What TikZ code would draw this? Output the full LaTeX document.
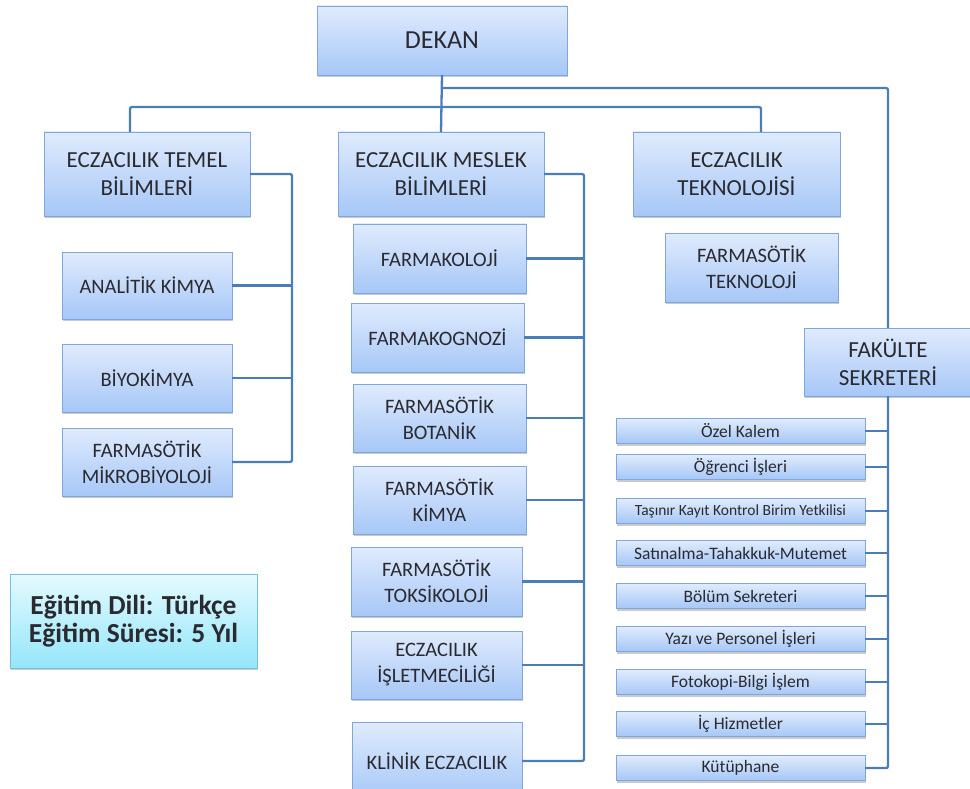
\documentclass[tikz,border=0pt]{standalone}
\usepackage{fontspec}
\setmainfont{Carlito}
\usetikzlibrary{shadows}

\definecolor{boxtop}{RGB}{224,235,253}
\definecolor{boxbot}{RGB}{166,199,247}
\definecolor{boxline}{RGB}{128,166,222}
\definecolor{linkblue}{RGB}{75,125,187}
\definecolor{edutop}{RGB}{228,250,254}
\definecolor{edubot}{RGB}{148,230,250}
\definecolor{eduline}{RGB}{120,188,222}
\definecolor{boxtext}{RGB}{42,42,48}

\tikzset{
  unit/.style={draw=boxline, line width=0.9pt, top color=boxtop, bottom color=boxbot,
    inner sep=0pt, outer sep=0pt, align=center, text=boxtext,
    drop shadow={shadow xshift=1.2pt, shadow yshift=-2pt, opacity=0.35, fill=black!60}},
  headbox/.style={unit, font=\fontsize{23}{28}\selectfont},
  subbox/.style={unit, font=\fontsize{20.5}{26}\selectfont},
  officebox/.style={unit, minimum width=249pt, minimum height=25pt,
    font=\fontsize{17.5}{20}\selectfont},
  link/.style={draw=linkblue, line width=2.3pt, rounded corners=2pt}
}

\begin{document}
\begin{tikzpicture}[x=1pt, y=-1pt]
    \useasboundingbox (0,0) rectangle (970,789);

    % top level
    \node[unit, font=\fontsize{26}{30}\selectfont, minimum width=250pt, minimum height=69pt]
      (dekan) at (442,40.5) {DEKAN};
    \node[headbox, minimum width=206pt, minimum height=84pt] (temel) at (147,174)
      {ECZACILIK TEMEL\\BİLİMLERİ};
    \node[headbox, minimum width=206pt, minimum height=84pt] (meslek) at (441,174)
      {ECZACILIK MESLEK\\BİLİMLERİ};
    \node[headbox, minimum width=207pt, minimum height=84pt] (teknoloji) at (736.5,174)
      {ECZACILIK\\TEKNOLOJİSİ};
    \node[subbox, minimum width=173pt, minimum height=69pt] (farmtek) at (751.5,267.5)
      {FARMASÖTİK\\TEKNOLOJİ};
    \node[headbox, minimum width=168pt, minimum height=68pt] (sekreter) at (888,362)
      {FAKÜLTE\\SEKRETERİ};

    % temel bilimler
    \node[subbox, minimum width=170pt, minimum height=67pt] (analitik) at (147,285.5)
      {ANALİTİK KİMYA};
    \node[subbox, minimum width=170pt, minimum height=68pt] (biyokimya) at (147,378)
      {BİYOKİMYA};
    \node[subbox, minimum width=170pt, minimum height=68pt] (mikro) at (147,462)
      {FARMASÖTİK\\MİKROBİYOLOJİ};

    % meslek bilimleri
    \node[subbox, minimum width=173pt, minimum height=69pt] (farmakoloji) at (439.5,258.5)
      {FARMAKOLOJİ};
    \node[subbox, minimum width=173pt, minimum height=69pt] (farmakognozi) at (437.5,337.5)
      {FARMAKOGNOZİ};
    \node[subbox, minimum width=173pt, minimum height=68pt] (botanik) at (439.5,418)
      {FARMASÖTİK\\BOTANİK};
    \node[subbox, minimum width=173pt, minimum height=68pt] (kimya) at (439.5,500)
      {FARMASÖTİK\\KİMYA};
    \node[subbox, minimum width=171pt, minimum height=69pt] (toksikoloji) at (436.5,581.5)
      {FARMASÖTİK\\TOKSİKOLOJİ};
    \node[subbox, minimum width=171pt, minimum height=68pt] (isletme) at (436.5,665)
      {ECZACILIK\\İŞLETMECİLİĞİ};
    \node[subbox, minimum width=170pt, minimum height=78pt] (klinik) at (437,761)
      {KLİNİK ECZACILIK};

    \node[draw=eduline, line width=0.9pt, top color=edutop, bottom color=edubot,
      minimum width=247pt, minimum height=94pt, align=center, text=boxtext,
      font=\bfseries\fontsize{27.5}{28.5}\selectfont,
      drop shadow={shadow xshift=1.2pt, shadow yshift=-2pt, opacity=0.35, fill=black!60}]
      (egitim) at (133.5,621) {Eğitim Dili: Türkçe\\Eğitim Süresi: 5 Yıl};

    % links from the dean
    \draw[link] (dekan.south) -- (meslek.north);
    \draw[link] ([xshift=-17pt]temel.north) |- ([xshift=24.5pt, yshift=25pt]teknoloji.north)
      -- ([xshift=24.5pt]teknoloji.north);
    \draw[link] ([yshift=-13pt]dekan.south) -| (sekreter.north);

    \draw[link] (temel.east) -- ++(42,0) coordinate (temelbus) |- (mikro.east);
    \foreach \unit in {analitik, biyokimya}
      \draw[link] (\unit.east) -- (\unit.east -| temelbus);

    \draw[link] (meslek.east) -- ++(40,0) coordinate (meslekbus) |- (klinik.east);
    \foreach \unit in {farmakoloji, farmakognozi, botanik, kimya, toksikoloji, isletme}
      \draw[link] (\unit.east) -- (\unit.east -| meslekbus);

    % secretariat offices
    \foreach \unit/\yy/\label in {ozel/431/Özel Kalem, ogrenci/467/Öğrenci İşleri,
        tasinir/511/{\fontsize{15.5}{17}\selectfont Taşınır Kayıt Kontrol Birim Yetkilisi},
        satinalma/553/Satınalma-Tahakkuk-Mutemet, bolum/596/Bölüm Sekreteri,
        yazi/639/Yazı ve Personel İşleri, fotokopi/682/Fotokopi-Bilgi İşlem,
        ichizmet/724/İç Hizmetler, kutuphane/768/Kütüphane} {
      \node[officebox] (\unit) at (740.5,\yy) {\label};
      \draw[link] (\unit.east) -- (\unit.east -| sekreter.south);
    }
    \draw[link] (sekreter.south) |- (kutuphane.east);
\end{tikzpicture}
\end{document}
